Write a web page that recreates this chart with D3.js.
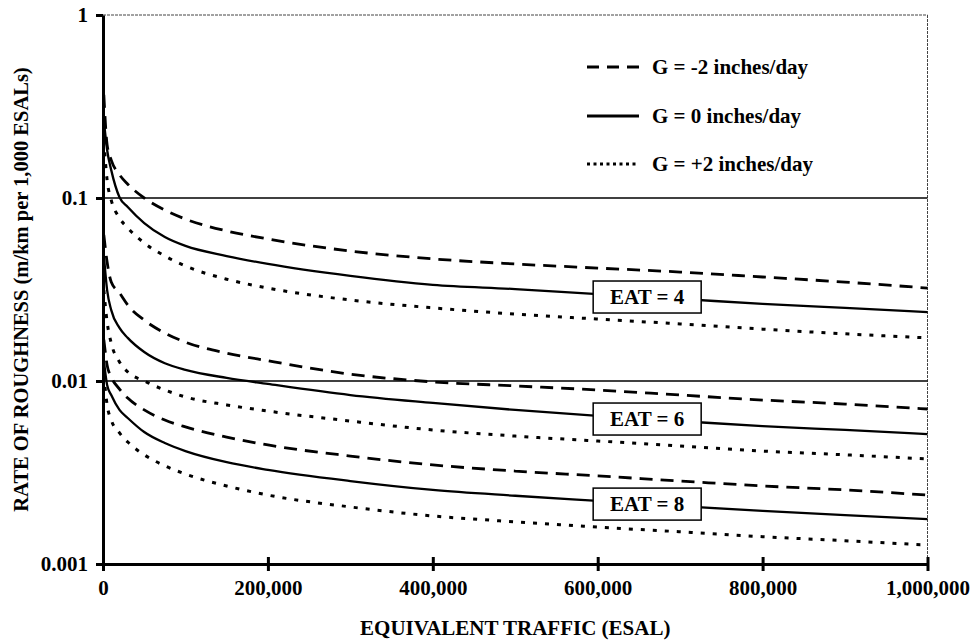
<!DOCTYPE html>
<html>
<head>
<meta charset="utf-8">
<script src="https://cdn.jsdelivr.net/npm/d3@7"></script>
<style>
  body { margin: 0; background: #fff; }
  svg text { font-family: "Liberation Serif", "Times New Roman", serif; font-weight: bold; fill: #000; }
</style>
</head>
<body>
<div id="chart"></div>
<script>
const esal = [1000, 5000, 10000, 20000, 30000, 50000, 75000, 100000, 150000, 200000,
              300000, 400000, 500000, 600000, 700000, 800000, 900000, 1000000];

// rate of roughness (m/km per 1,000 ESALs), per EAT and G
const eat4_gMinus2 = [0.366, 0.195, 0.161, 0.134, 0.119, 0.100, 0.0859, 0.0767, 0.0661, 0.0597,
                      0.0513, 0.0465, 0.0436, 0.0414, 0.0394, 0.0370, 0.0347, 0.0322];
const eat4_g0      = [0.267, 0.183, 0.142, 0.101, 0.0893, 0.0730, 0.0612, 0.0547, 0.0482, 0.0436,
                      0.0375, 0.0335, 0.0318, 0.0298, 0.0281, 0.0264, 0.0251, 0.0238];
const eat4_gPlus2  = [0.207, 0.125, 0.0975, 0.0778, 0.0686, 0.0568, 0.0482, 0.0425, 0.0360, 0.0322,
                      0.0277, 0.0251, 0.0232, 0.0218, 0.0205, 0.0192, 0.0181, 0.0172];
const eat6_gMinus2 = [0.0628, 0.0447, 0.0347, 0.0303, 0.0260, 0.0215, 0.0183, 0.0163, 0.0142, 0.0129,
                      0.0109, 0.00989, 0.00940, 0.00893, 0.00838, 0.00787, 0.00748, 0.00703];
const eat6_g0      = [0.0489, 0.0314, 0.0244, 0.0195, 0.0172, 0.0144, 0.0125, 0.0115, 0.0104, 0.00964,
                      0.00838, 0.00759, 0.00695, 0.00644, 0.00604, 0.00567, 0.00540, 0.00513];
const eat6_gPlus2  = [0.0314, 0.0210, 0.0161, 0.0127, 0.0112, 0.0100, 0.00893, 0.00818, 0.00740, 0.00685,
                      0.00604, 0.00540, 0.00500, 0.00470, 0.00442, 0.00414, 0.00395, 0.00375];
const eat8_gMinus2 = [0.0168, 0.0122, 0.0105, 0.00904, 0.00807, 0.00695, 0.00612, 0.00561, 0.00494, 0.00447,
                      0.00389, 0.00348, 0.00322, 0.00303, 0.00284, 0.00267, 0.00254, 0.00238];
const eat8_g0      = [0.0130, 0.00951, 0.00838, 0.00695, 0.00628, 0.00526, 0.00458, 0.00414, 0.00360, 0.00327,
                      0.00284, 0.00254, 0.00236, 0.00221, 0.00207, 0.00195, 0.00185, 0.00176];
const eat8_gPlus2  = [0.0108, 0.00740, 0.00612, 0.00520, 0.00464, 0.00395, 0.00344, 0.00310, 0.00267, 0.00238,
                      0.00205, 0.00183, 0.00170, 0.00159, 0.00150, 0.00141, 0.00134, 0.00127];

const gLabels = ["G = -2 inches/day", "G = 0 inches/day", "G = +2 inches/day"];
const eatLabels = ["EAT = 4", "EAT = 6", "EAT = 8"];
const xTicks = [0, 200000, 400000, 600000, 800000, 1000000];
const yTicks = [0.001, 0.01, 0.1, 1];
const yTickLabels = ["0.001", "0.01", "0.1", "1"];
const gridValues = [0.1, 0.01];
const eatLabelAt = 660000;

const groups = [
  [eat4_gMinus2, eat4_g0, eat4_gPlus2],
  [eat6_gMinus2, eat6_g0, eat6_gPlus2],
  [eat8_gMinus2, eat8_g0, eat8_gPlus2]
];

const width = 970, height = 640;
const margin = { top: 15, right: 42.5, bottom: 76, left: 103 };
const fontSize = 21;

const svg = d3.select("#chart").append("svg")
  .attr("width", width)
  .attr("height", height);

const x = d3.scaleLinear().domain([0, 1000000]).range([margin.left, width - margin.right]);
const y = d3.scaleLog().domain([0.001, 1]).range([height - margin.bottom, margin.top]);

// line styles for G = -2, 0, +2
const dashCurve = ["13,8", null, "4,8"];
const widthCurve = [2.8, 2.3, 3];
const dashLegend = ["12,8", null, "3,3.5"];

// frame: faint top and right borders
svg.append("line")
  .attr("x1", x(0)).attr("x2", x(1000000))
  .attr("y1", y(1)).attr("y2", y(1))
  .attr("stroke", "#444").attr("stroke-width", 1).attr("stroke-dasharray", "3,1");
svg.append("line")
  .attr("x1", x(1000000)).attr("x2", x(1000000))
  .attr("y1", y(1)).attr("y2", y(0.001))
  .attr("stroke", "#444").attr("stroke-width", 1).attr("stroke-dasharray", "3,1");

// horizontal grid lines
svg.selectAll(".grid").data(gridValues).join("line")
  .attr("class", "grid")
  .attr("x1", x(0)).attr("x2", x(1000000))
  .attr("y1", d => y(d)).attr("y2", d => y(d))
  .attr("stroke", "#000").attr("stroke-width", 1.5);

// curves
const line = d3.line()
  .x((d, i) => x(esal[i]))
  .y(d => y(d))
  .curve(d3.curveMonotoneX);

groups.forEach(group => {
  group.forEach((series, k) => {
    svg.append("path")
      .datum(series)
      .attr("d", line)
      .attr("fill", "none")
      .attr("stroke", "#000")
      .attr("stroke-width", widthCurve[k])
      .attr("stroke-dasharray", dashCurve[k]);
  });
});

// EAT boxes sit on the G = 0 curve
function valueAt(series, xv) {
  const i = d3.bisectLeft(esal, xv);
  const x0 = esal[i - 1], x1 = esal[i];
  const t = (xv - x0) / (x1 - x0);
  return Math.exp(Math.log(series[i - 1]) * (1 - t) + Math.log(series[i]) * t);
}

groups.forEach((group, j) => {
  const cx = x(eatLabelAt);
  const cy = y(valueAt(group[1], eatLabelAt));
  const g = svg.append("g").attr("transform", `translate(${cx},${cy})`);
  g.append("rect")
    .attr("x", -54).attr("y", -16)
    .attr("width", 108).attr("height", 32)
    .attr("fill", "#fff").attr("stroke", "#000").attr("stroke-width", 1.5);
  g.append("text")
    .attr("text-anchor", "middle")
    .attr("dy", "0.35em")
    .attr("font-size", fontSize)
    .text(eatLabels[j]);
});

// axes
const xAxis = svg.append("g")
  .attr("transform", `translate(0,${y(0.001)})`)
  .call(d3.axisBottom(x).tickValues(xTicks).tickFormat(d3.format(",")).tickSize(7).tickSizeOuter(0).tickPadding(9));
xAxis.select(".domain").attr("stroke-width", 3);
xAxis.selectAll(".tick line").attr("y1", -7).attr("stroke-width", 3);
xAxis.selectAll(".tick text").attr("font-size", fontSize);

const yAxis = svg.append("g")
  .attr("transform", `translate(${x(0)},0)`)
  .call(d3.axisLeft(y).tickValues(yTicks).tickFormat((d, i) => yTickLabels[i]).tickSize(7).tickSizeOuter(0).tickPadding(8));
yAxis.select(".domain").attr("stroke-width", 3);
yAxis.selectAll(".tick line").attr("stroke-width", 3);
yAxis.selectAll(".tick text").attr("font-size", fontSize);
svg.selectAll("g").attr("font-family", null);

// axis titles
svg.append("text")
  .attr("x", (x(0) + x(1000000)) / 2)
  .attr("y", 635)
  .attr("text-anchor", "middle")
  .attr("font-size", fontSize)
  .text("EQUIVALENT TRAFFIC (ESAL)");

svg.append("text")
  .attr("transform", `translate(28,${(y(1) + y(0.001)) / 2}) rotate(-90)`)
  .attr("text-anchor", "middle")
  .attr("font-size", 20.5)
  .text("RATE OF ROUGHNESS (m/km per 1,000 ESALs)");

// legend
const legendY = [67, 116, 164];
const legend = svg.append("g");
gLabels.forEach((label, k) => {
  legend.append("line")
    .attr("x1", 587).attr("x2", 639)
    .attr("y1", legendY[k]).attr("y2", legendY[k])
    .attr("stroke", "#000").attr("stroke-width", 3)
    .attr("stroke-dasharray", dashLegend[k]);
  legend.append("text")
    .attr("x", 652).attr("y", legendY[k])
    .attr("dy", "0.35em")
    .attr("font-size", fontSize)
    .text(label);
});
</script>
</body>
</html>
